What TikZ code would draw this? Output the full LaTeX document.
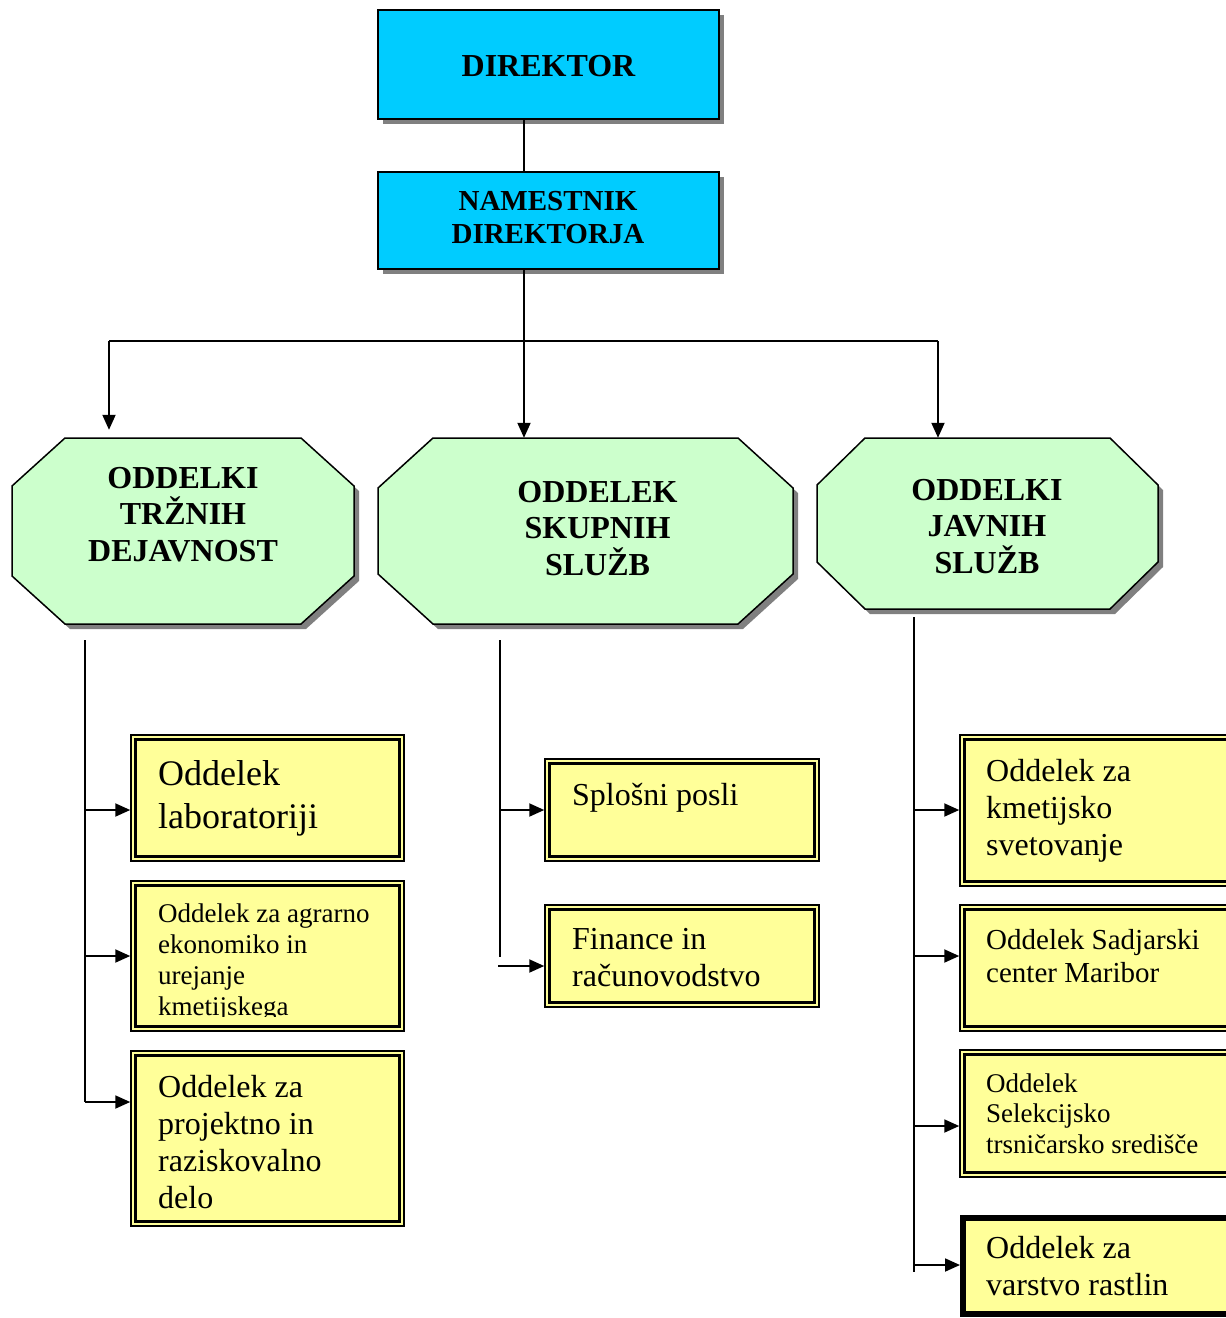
\documentclass[tikz,border=0pt]{standalone}
\usepackage{fontspec}
\setmainfont{Liberation Serif}
\usetikzlibrary{arrows.meta,shadows}
\definecolor{cyanc}{HTML}{00CCFF}
\definecolor{greenc}{HTML}{CCFFCC}
\definecolor{yellowc}{HTML}{FFFF99}
\definecolor{shadowc}{HTML}{808080}
\newcommand\fsz[2]{\fontsize{#1}{#2}\selectfont}
\newcommand\innerframe[1]{\draw[line width=2.8pt] ([xshift=5pt,yshift=-5pt]#1.north west) rectangle ([xshift=-5pt,yshift=5pt]#1.south east);}
% octagon: x1 y1 x2 y2 dx dy
\newcommand\octagonshape[6]{%
  \fill[shadowc,shift={(5,5)}] (#1+#5,#2) -- (#3-#5,#2) -- (#3,#2+#6) -- (#3,#4-#6) -- (#3-#5,#4) -- (#1+#5,#4) -- (#1,#4-#6) -- (#1,#2+#6) -- cycle;
  \filldraw[fill=greenc,draw=black,line width=1.5pt] (#1+#5,#2) -- (#3-#5,#2) -- (#3,#2+#6) -- (#3,#4-#6) -- (#3-#5,#4) -- (#1+#5,#4) -- (#1,#4-#6) -- (#1,#2+#6) -- cycle;}
\begin{document}
\begin{tikzpicture}[x=1pt,y=-1pt,
  shad/.style={drop shadow={shadow xshift=5pt,shadow yshift=-5pt,fill=shadowc,opacity=1}},
  chief/.style={draw=black,line width=1.5pt,fill=cyanc,inner sep=0,minimum width=341pt,shad},
  octanchor/.style={inner sep=0,rectangle},
  ybox/.style={draw=black,line width=1.5pt,fill=yellowc,inner sep=0},
  hd/.style={font=\bfseries\fsz{32}{36.5},align=center,inner sep=0,anchor=north},
  tx/.style={align=left,inner sep=0,anchor=north west},
  conn/.style={line width=1.9pt},
  arr/.style={line width=1.9pt,-{Triangle[length=15pt,width=13pt]}}]
\useasboundingbox (0,0) rectangle (1226,1318);
\clip (0,0) rectangle (1226,1318);

% top boxes
\node[chief,minimum height=109pt] (dir) at (548.5,64.5) {};
\node[font=\bfseries\fsz{32}{37},inner sep=0,anchor=base] (dirt) at (548.5,76) {DIREKTOR};
\node[chief,minimum height=97pt] (nam) at (548.5,220.5) {};
\node[font=\bfseries\fsz{29}{33},align=center,inner sep=0,anchor=north] (namt) at (548,191) {NAMESTNIK\\DIREKTORJA};

% octagons
\octagonshape{12}{438}{354}{624}{53}{48}
\node[octanchor,minimum width=342pt,minimum height=186pt] (o1) at (183,531) {};
\node[hd] (o1t) at (183,467) {ODDELKI\\TRŽNIH\\DEJAVNOST};
\octagonshape{378}{438}{793}{624}{55}{50}
\node[octanchor,minimum width=415pt,minimum height=186pt] (o2) at (585.5,531) {};
\node[hd] (o2t) at (597.5,481) {ODDELEK\\SKUPNIH\\SLUŽB};
\octagonshape{817}{438}{1158}{609}{48}{47}
\node[octanchor,minimum width=341pt,minimum height=171pt] (o3) at (987.5,523.5) {};
\node[hd] (o3t) at (987,479) {ODDELKI\\JAVNIH\\SLUŽB};

% top connectors
\coordinate (spine) at (524,0);
\coordinate (hl) at (109,341);
\coordinate (hr) at (938,341);
\draw[conn] (dir.south -| spine) -- (nam.north -| spine);
\draw[arr] (nam.south -| spine) -- (o2.north -| spine);
\draw[conn] (hl) -- (hr);
\draw[arr,shorten >=8pt] (hl) -- (o1.north -| hl);
\draw[arr] (hr) -- (o3.north -| hr);

% left column boxes
\node[ybox,minimum width=273pt,minimum height=126pt] (b1) at (267.5,798) {};
\innerframe{b1}
\node[tx,font=\fsz{36}{43}] (b1t) at (158,760) {Oddelek\\laboratoriji};
\node[ybox,minimum width=273pt,minimum height=150pt] (b2) at (267.5,956) {};
\innerframe{b2}
\begin{scope}
\clip (140,890) rectangle (396,1016);
\node[tx,font=\fsz{27}{31}] (b2t) at (158,903.5) {Oddelek za agrarno\\ekonomiko in\\urejanje\\kmetijskega};
\end{scope}
\node[ybox,minimum width=273pt,minimum height=175pt] (b3) at (267.5,1138.5) {};
\innerframe{b3}
\node[tx,font=\fsz{32}{37}] (b3t) at (158,1075) {Oddelek za\\projektno in\\raziskovalno\\delo};

% middle column boxes
\node[ybox,minimum width=274pt,minimum height=102pt] (m1) at (682,810) {};
\innerframe{m1}
\node[tx,font=\fsz{32}{37}] (m1t) at (572,783) {Splošni posli};
\node[ybox,minimum width=274pt,minimum height=102pt] (m2) at (682,956) {};
\innerframe{m2}
\node[tx,font=\fsz{32}{37}] (m2t) at (572,928) {Finance in\\računovodstvo};

% right column boxes
\node[ybox,minimum width=280pt,minimum height=151pt] (r1) at (1100,810.5) {};
\innerframe{r1}
\node[tx,font=\fsz{32}{37}] (r1t) at (986,759) {Oddelek za\\kmetijsko\\svetovanje};
\node[ybox,minimum width=280pt,minimum height=126pt] (r2) at (1100,968) {};
\innerframe{r2}
\node[tx,font=\fsz{29}{33}] (r2t) at (986,929) {Oddelek Sadjarski\\center Maribor};
\node[ybox,minimum width=280pt,minimum height=127pt] (r3) at (1100,1113.5) {};
\innerframe{r3}
\node[tx,font=\fsz{27}{30.5}] (r3t) at (986,1073.5) {Oddelek\\Selekcijsko\\trsničarsko središče};
\node[ybox,line width=6pt,minimum width=277pt,minimum height=96pt] (r4) at (1101.5,1266) {};
\node[tx,font=\fsz{32}{37}] (r4t) at (986,1236) {Oddelek za\\varstvo rastlin};

% left trunk
\coordinate (t1a) at (85,640);
\coordinate (t1b) at (85,1102);
\coordinate (t11) at (85,810);
\coordinate (t12) at (85,956);
\draw[conn] (t1a) -- (t1b);
\draw[arr] (t11) -- (t11 -| b1.west);
\draw[arr] (t12) -- (t12 -| b2.west);
\draw[arr] (t1b) -- (t1b -| b3.west);

% middle trunk
\coordinate (t2a) at (500,640);
\coordinate (t2b) at (500,957);
\coordinate (t21) at (500,810);
\coordinate (t22) at (498,966);
\draw[conn] (t2a) -- (t2b);
\draw[arr] (t21) -- (t21 -| m1.west);
\draw[arr] (t22) -- (t22 -| m2.west);

% right trunk
\coordinate (t3a) at (914,617);
\coordinate (t3b) at (914,1272);
\coordinate (t31) at (914,810);
\coordinate (t32) at (914,956);
\coordinate (t33) at (914,1126);
\coordinate (t34) at (914,1265);
\draw[conn] (t3a) -- (t3b);
\draw[arr] (t31) -- (t31 -| r1.west);
\draw[arr] (t32) -- (t32 -| r2.west);
\draw[arr] (t33) -- (t33 -| r3.west);
\draw[arr] (t34) -- (t34 -| r4.west);
\end{tikzpicture}
\end{document}
